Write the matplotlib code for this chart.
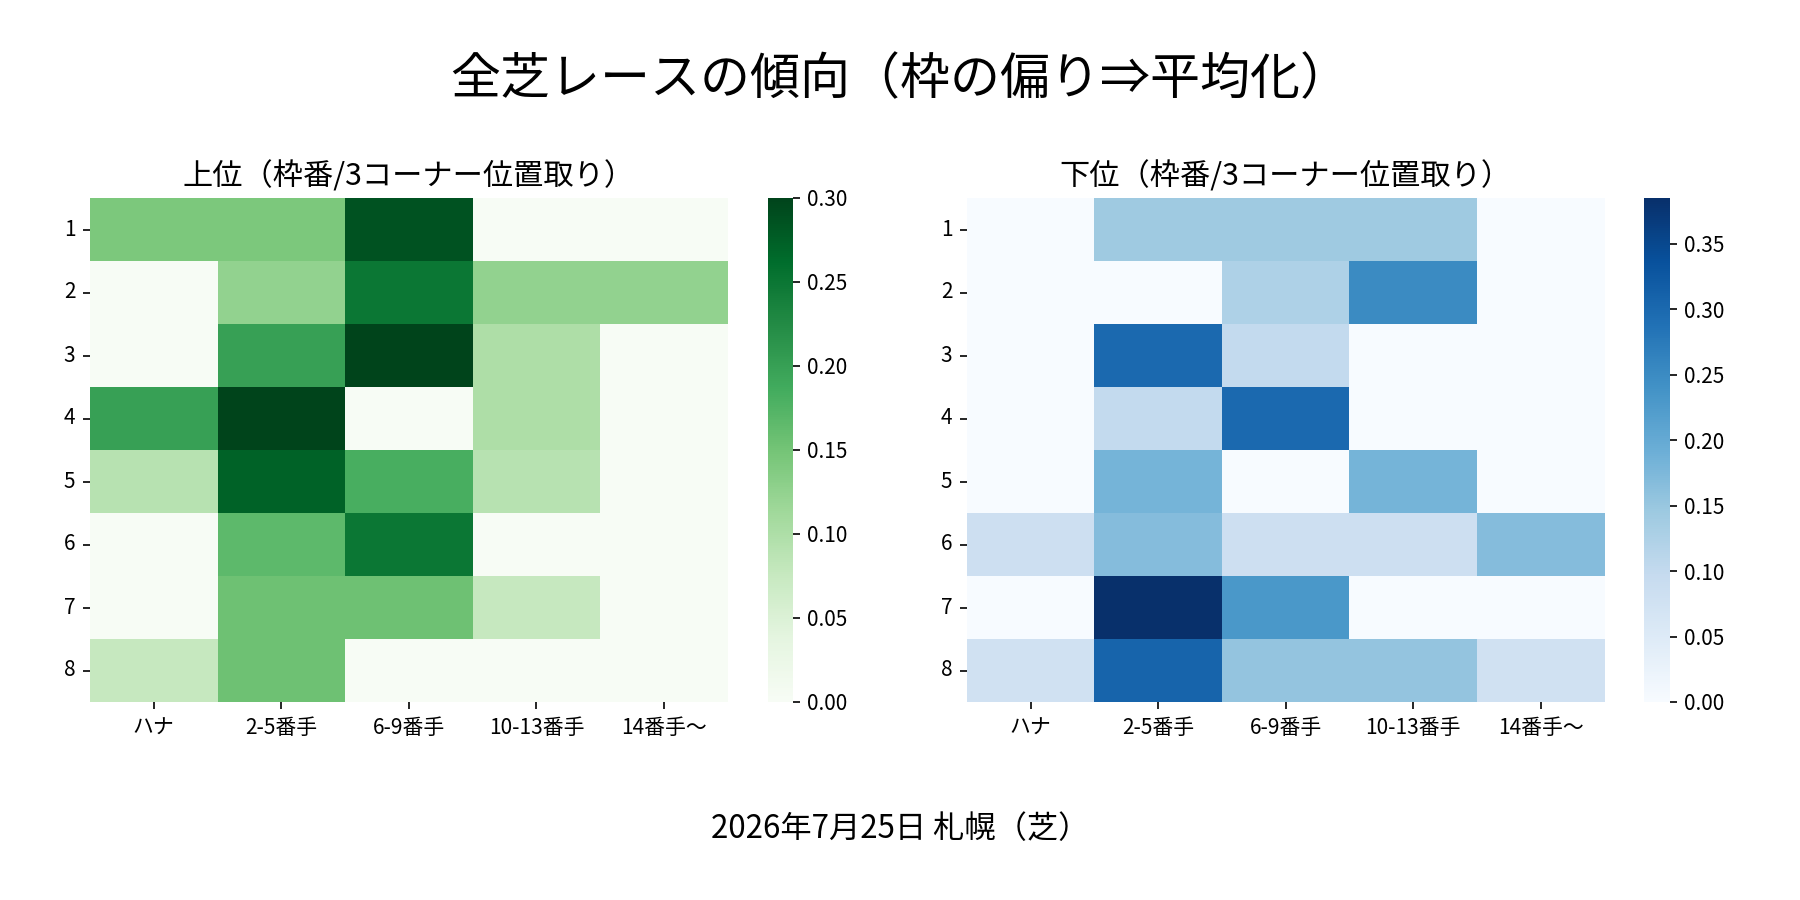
import matplotlib
matplotlib.use("Agg")
import matplotlib.pyplot as plt
import seaborn as sns
import numpy as np
import pandas as pd

plt.rcParams['font.family'] = ['Noto Sans CJK JP', 'DejaVu Sans']

frames = ["1", "2", "3", "4", "5", "6", "7", "8"]
positions = ["ハナ", "2-5番手", "6-9番手", "10-13番手", "14番手〜"]

upper_values = [
    [0.143, 0.143, 0.286, 0.000, 0.000],
    [0.000, 0.125, 0.250, 0.125, 0.125],
    [0.000, 0.200, 0.300, 0.100, 0.000],
    [0.200, 0.300, 0.000, 0.100, 0.000],
    [0.091, 0.273, 0.182, 0.091, 0.000],
    [0.000, 0.167, 0.250, 0.000, 0.000],
    [0.000, 0.154, 0.154, 0.077, 0.000],
    [0.077, 0.154, 0.000, 0.000, 0.000],
]

lower_values = [
    [0.000, 0.143, 0.143, 0.143, 0.000],
    [0.000, 0.000, 0.125, 0.250, 0.000],
    [0.000, 0.300, 0.100, 0.000, 0.000],
    [0.000, 0.100, 0.300, 0.000, 0.000],
    [0.000, 0.182, 0.000, 0.182, 0.000],
    [0.083, 0.167, 0.083, 0.083, 0.167],
    [0.000, 0.385, 0.231, 0.000, 0.000],
    [0.077, 0.308, 0.154, 0.154, 0.077],
]

main_title = "全芝レースの傾向（枠の偏り⇒平均化）"
upper_title = "上位（枠番/3コーナー位置取り）"
lower_title = "下位（枠番/3コーナー位置取り）"
footer = "2026年7月25日 札幌（芝）"

df_upper = pd.DataFrame(upper_values, index=frames, columns=positions)
df_lower = pd.DataFrame(lower_values, index=frames, columns=positions)

fig, axes = plt.subplots(1, 2, figsize=(12, 6), dpi=150)
plt.subplots_adjust(left=0.05, right=0.98, top=0.78, bottom=0.22, wspace=0.1)

sns.heatmap(df_upper, cmap="Greens", ax=axes[0])
sns.heatmap(df_lower, cmap="Blues", ax=axes[1])

for ax, t in zip(axes, [upper_title, lower_title]):
    ax.set_title(t, fontsize=14.5)
    ax.tick_params(axis='both', labelsize=10)
    ax.set_yticklabels(ax.get_yticklabels(), rotation=0)
    ax.set_xticklabels(ax.get_xticklabels(), rotation=0)
    ax.set_xlabel("")
    ax.set_ylabel("")
    cb = ax.collections[0].colorbar
    cb.ax.tick_params(labelsize=10)

fig.suptitle(main_title, fontsize=24, y=0.94)
fig.text(0.5, 0.079, footer, ha="center", va="center", fontsize=15)

fig.savefig("out.png", dpi=150)
